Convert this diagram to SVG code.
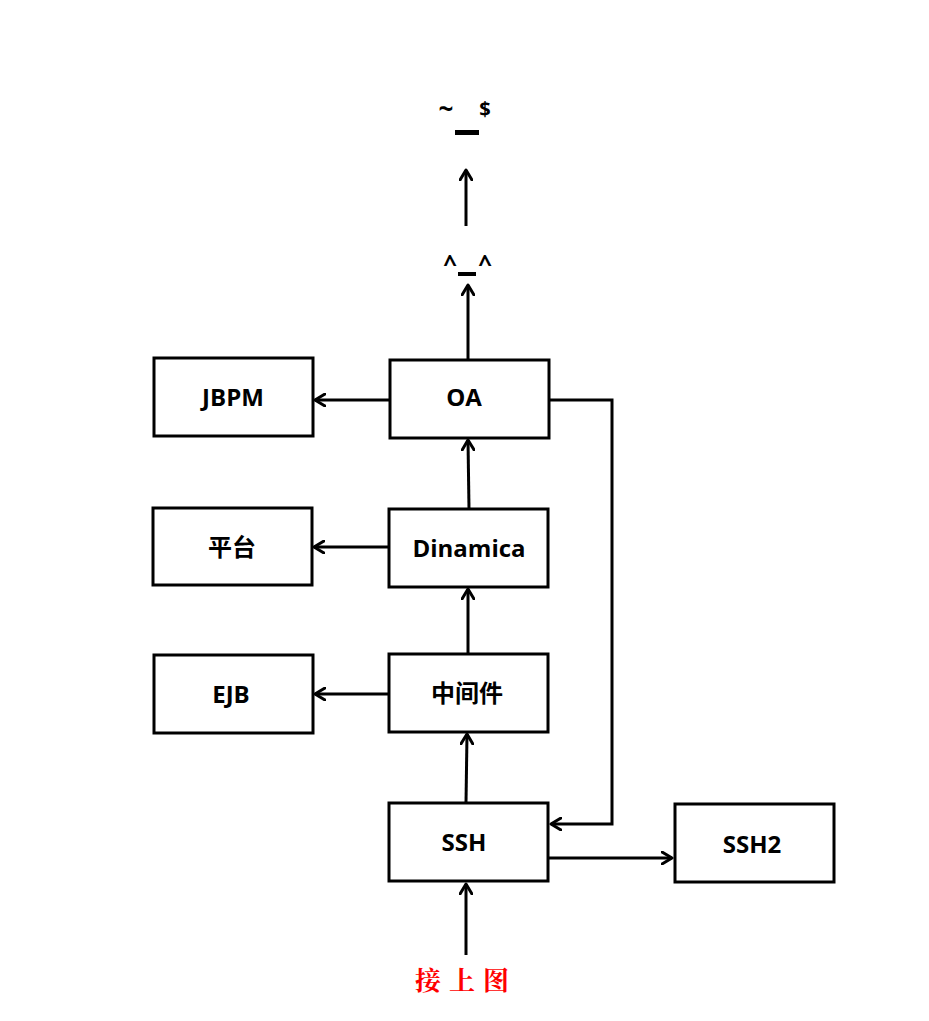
<svg xmlns="http://www.w3.org/2000/svg" width="929" height="1021" viewBox="0 0 929 1021">
<defs>
<marker id="ah" markerWidth="14" markerHeight="14" refX="11" refY="7" orient="auto" markerUnits="userSpaceOnUse">
<path d="M1,1 L11,7 L1,13" fill="none" stroke="#000" stroke-width="3" stroke-linecap="round" stroke-linejoin="round"/>
</marker>
<style>
.b{fill:#fff;stroke:#000;stroke-width:3}
.t{font-family:"Open Sans","Noto Sans CJK SC",sans-serif;font-weight:bold;font-size:24px;text-anchor:middle;fill:#000}
.c{fill:none;stroke:#000;stroke-width:3;marker-end:url(#ah)}
.f{font-family:"Open Sans",sans-serif;font-weight:bold;fill:#000;text-anchor:middle}
</style>
</defs>
<rect width="929" height="1021" fill="#fff"/>
<g id="face1"><text class="f" x="446" y="118" font-size="26">~</text><text class="f" x="485" y="116" font-size="20" font-weight="normal">$</text><rect x="455" y="130" width="24" height="5"/></g>
<g id="face2"><text class="f" x="450" y="272" font-size="24">^</text><text class="f" x="485" y="272" font-size="24">^</text><rect x="458" y="272" width="18" height="4"/></g>
<g id="JBPM"><rect class="b" x="154" y="358" width="159" height="78"/><text class="t" x="233" y="406">JBPM</text></g>
<g id="OA"><rect class="b" x="390" y="360" width="159" height="78"/><text class="t" x="464" y="406" font-size="20">OA</text></g>
<g id="pingtai"><rect class="b" x="153" y="508" width="159" height="77"/><text class="t" x="232" y="556">平台</text></g>
<g id="Dinamica"><rect class="b" x="389" y="509" width="159" height="78"/><text class="t" x="469" y="557">Dinamica</text></g>
<g id="EJB"><rect class="b" x="154" y="655" width="159" height="78"/><text class="t" x="231" y="703">EJB</text></g>
<g id="zhongjianjian"><rect class="b" x="389" y="654" width="159" height="78"/><text class="t" x="467" y="702">中间件</text></g>
<g id="SSH"><rect class="b" x="389" y="803" width="159" height="78"/><text class="t" x="464" y="851">SSH</text></g>
<g id="SSH2"><rect class="b" x="675" y="804" width="159" height="78"/><text class="t" x="752" y="853">SSH2</text></g>
<g id="jieshangtu"><text x="466" y="990" font-family="'Noto Serif CJK SC','Noto Sans CJK SC',serif" font-weight="bold" font-size="26" fill="#f00" text-anchor="middle" letter-spacing="8">接上图</text></g>
<g id="connectors">
<path class="c" d="M466,226 L466,170"/>
<path class="c" d="M468,360 L468,285"/>
<path class="c" d="M390,400 L315,400"/>
<path class="c" d="M469,509 L468,440"/>
<path class="c" d="M389,547 L314,547"/>
<path class="c" d="M468,654 L468,589"/>
<path class="c" d="M389,694 L315,694"/>
<path class="c" d="M466,803 L467,734"/>
<path class="c" d="M549,400 L612,400 L612,824 L551,824"/>
<path class="c" d="M549,858 L672,858"/>
<path class="c" d="M466,955 L466,884"/>
</g>
</svg>
